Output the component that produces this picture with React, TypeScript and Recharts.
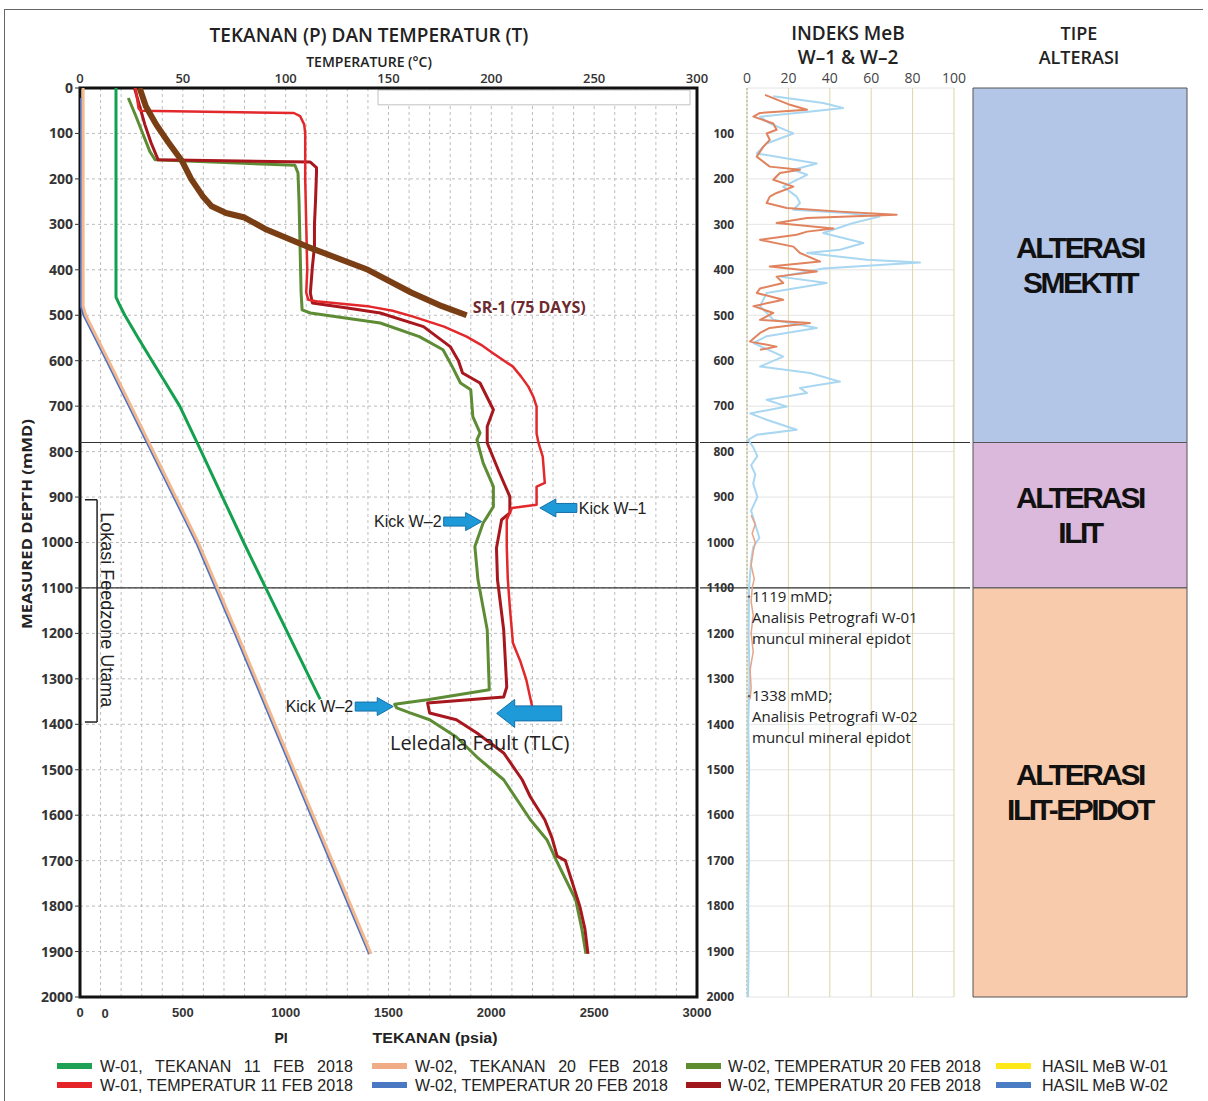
import React from 'react';
import {
  ScatterChart, Scatter, XAxis, YAxis, CartesianGrid,
  ReferenceLine, ReferenceArea, ReferenceDot,
} from 'recharts';

// ---------- axis ticks ----------
const DEPTH_TICKS = [0, 100, 200, 300, 400, 500, 600, 700, 800, 900, 1000, 1100, 1200, 1300, 1400, 1500, 1600, 1700, 1800, 1900, 2000];
const MEB_DEPTH_TICKS = [100, 200, 300, 400, 500, 600, 700, 800, 900, 1000, 1100, 1200, 1300, 1400, 1500, 1600, 1700, 1800, 1900, 2000];
const TEMP_TICKS = [0, 10, 20, 30, 40, 50, 60, 70, 80, 90, 100, 110, 120, 130, 140, 150, 160, 170, 180, 190, 200, 210, 220, 230, 240, 250, 260, 270, 280, 290, 300];
const PRESSURE_TICKS = [0, 500, 1000, 1500, 2000, 2500, 3000];
const MEB_TICKS = [0, 20, 40, 60, 80, 100];
const BOUNDARY_DEPTHS = [780, 1100];

// ---------- W-01 pressure 11 Feb 2018 (psia vs mMD) ----------
const P1_DEPTH = [0, 460, 475, 500, 550, 600, 650, 700, 800, 900, 1000, 1100, 1200, 1300, 1345];
const P1_PSIA = [175, 175, 190, 218, 283, 350, 418, 485, 590, 693, 796, 903, 1011, 1119, 1168];

// ---------- W-02 pressure 20 Feb 2018 ----------
const P2_DEPTH = [0, 480, 500, 600, 700, 800, 900, 1000, 1200, 1400, 1600, 1800, 1905];
const P2_PSIA = [15, 15, 28, 139, 248, 357, 466, 575, 763, 948, 1133, 1318, 1415];

// ---------- W-02 (blue) 20 Feb 2018 ----------
const B_DEPTH = [22, 480, 500, 600, 700, 800, 900, 1000, 1200, 1400, 1600, 1800, 1905];
const B_PSIA = [4, 6, 20, 131, 240, 349, 458, 567, 755, 940, 1125, 1310, 1408];

// ---------- SR-1 (75 days) ----------
const SR_DEPTH = [0, 40, 80, 120, 160, 200, 240, 260, 275, 285, 310, 350, 400, 450, 480, 500];
const SR_TEMP = [29, 32, 37, 43, 49.5, 54, 60, 64, 71, 80, 90, 111, 140, 161, 176, 188];

// ---------- W-01 temperature 11 Feb 2018 ----------
const T1_DEPTH = [0, 45, 50, 55, 62, 80, 100, 200, 300, 400, 450, 466, 470, 481, 490, 503, 525, 547, 565, 584, 613, 635, 657, 680, 701, 760, 782, 811, 869, 877, 917, 924, 950, 1009, 1080, 1142, 1221, 1260, 1302, 1364];
const T1_TEMP = [27, 28.5, 29.5, 104, 107, 109, 109.5, 109.5, 110, 110.5, 110, 111, 116, 141, 152, 162, 177, 188, 195, 201, 210.5, 214.5, 218, 220.5, 222, 222, 223, 225, 226, 222, 222, 210, 207.5, 207.5, 208, 209, 210.5, 214, 217, 220];

// ---------- W-02 temperature 20 Feb 2018 (dark red) ----------
const T2_DEPTH = [0, 40, 80, 120, 158, 163, 175, 185, 250, 300, 349, 393, 451, 473, 484, 495, 525, 569, 600, 627, 649, 708, 745, 781, 847, 899, 935, 950, 1012, 1082, 1192, 1318, 1340, 1353, 1375, 1390, 1419, 1463, 1522, 1560, 1610, 1650, 1690, 1700, 1750, 1800, 1850, 1905];
const T2_TEMP = [26.5, 29, 31.5, 34.5, 38, 112, 115, 115, 114.5, 114, 114, 113, 112, 113, 130, 146, 167, 180, 184, 186, 194.5, 201, 198, 198, 204, 209, 209, 205, 202.5, 203, 206, 207.5, 206, 169, 170, 183, 193, 206, 215, 219, 226, 229.5, 232, 236, 239.5, 243, 245.5, 247];

// ---------- W-02 temperature 20 Feb 2018 (olive) ----------
const T3_DEPTH = [22, 60, 100, 140, 158, 170, 187, 250, 350, 450, 488, 495, 517, 547, 576, 613, 649, 664, 723, 759, 774, 825, 877, 921, 943, 957, 1009, 1082, 1192, 1324, 1346, 1356, 1364, 1375, 1390, 1428, 1472, 1522, 1610, 1654, 1703, 1786, 1850, 1905];
const T3_TEMP = [23.5, 27, 30.5, 34, 36.5, 104.5, 106, 106.5, 107, 107.5, 108, 112, 146, 165, 176.5, 181, 185, 190, 191, 194.5, 193, 196, 201, 201, 198, 196, 192, 193.5, 198, 199, 169, 153, 154, 160.5, 170, 183, 193, 206, 219, 227, 232, 241, 244, 246];

// ---------- MeB index ----------
const MEB1_DEPTH = [15, 37, 48, 55, 63, 78, 92, 100, 114, 129, 151, 173, 180, 187, 202, 217, 231, 239, 253, 264, 272, 279, 286, 297, 309, 316, 323, 334, 349, 363, 382, 393, 404, 415, 429, 441, 451, 466, 480, 495, 510, 517, 528, 539, 558, 569, 576];
const MEB1_VAL = [8.7, 20.8, 29, 6.3, 3.1, 12.7, 14.3, 9.5, 11, 7.9, 4.7, 11, 25.6, 15.9, 12.7, 22.4, 14.3, 11, 9.5, 19.2, 44.9, 72.3, 29, 14.3, 41.7, 29, 24, 6.3, 22.4, 25.6, 35.3, 11, 33.7, 14.3, 17.5, 6.3, 4.7, 17.5, 3.1, 12.7, 6.3, 30.4, 11, 6.3, 1.5, 14.3, 6.3];
const MEB1_DEEP_DEPTH = [940, 960, 980, 1000, 1020, 1050, 1080, 1100, 1130, 1160, 1200, 1240, 1280, 1320, 1345];
const MEB1_DEEP_VAL = [2, 4, 2.5, 4, 3, 2, 3.5, 2.5, 2, 3, 2, 3, 1.5, 2, 1.5];
const MEB2_DEPTH = [18, 33, 44, 51, 63, 78, 100, 122, 144, 166, 180, 191, 217, 239, 253, 268, 275, 283, 297, 319, 341, 356, 363, 378, 384, 397, 415, 429, 451, 480, 510, 528, 546, 561, 591, 613, 627, 646, 660, 671, 686, 701, 716, 730, 752, 763, 774, 790, 810, 830, 850, 870, 900, 930, 960, 990, 1010, 1040, 1070, 1100, 1200, 1300, 1400, 1500, 1600, 1700, 1800, 1900, 2000];
const MEB2_VAL = [12.7, 36.8, 46.4, 32, 6.3, 11, 22.4, 9.5, 4.7, 33.7, 22.4, 29, 17.5, 24, 25.6, 22.4, 48, 64, 51.3, 36.8, 56.2, 44.9, 29, 57.8, 83.6, 36.8, 15.9, 38.5, 9.5, 6.3, 12.7, 33.7, 9.5, 3.1, 17.5, 6.3, 30.4, 44.9, 25.6, 29, 9.5, 19.2, 1.5, 9.5, 24, 4.7, 0.5, 3, 5, 2, 4, 3, 5, 2, 4, 6, 3, 2, 1.5, 1, 0.8, 1.2, 0.6, 1, 0.7, 0.9, 0.6, 0.8, 0.5];

// ---------- petrography notes ----------
const PETRO_DEPTHS = [1119, 1338];
const PETRO_WELLS = ['W-01', 'W-02'];

// ---------- alteration zones ----------
const ZONE_TOPS = [0, 780, 1100];
const ZONE_BOTTOMS = [780, 1100, 2000];
const ZONE_NAMES = [['ALTERASI', 'SMEKTIT'], ['ALTERASI', 'ILIT'], ['ALTERASI', 'ILIT-EPIDOT']];
const ZONE_COLORS = ['#B3C6E7', '#DBB9DC', '#F8CBAD'];

// ---------- legend ----------
const LEGEND_LABELS = [
  ['W-01, TEKANAN 11 FEB 2018', 'W-02, TEKANAN 20 FEB 2018', 'W-02, TEMPERATUR 20 FEB 2018', 'HASIL MeB W-01'],
  ['W-01, TEMPERATUR 11 FEB 2018', 'W-02, TEMPERATUR 20 FEB 2018', 'W-02, TEMPERATUR 20 FEB 2018', 'HASIL MeB W-02'],
];
const LEGEND_COLORS = [
  ['#1DA155', '#F0AC84', '#5E8C31', '#FFE81A'],
  ['#E42428', '#4A78C2', '#A0171C', '#4A7DC4'],
];

const SANS = '"Liberation Sans", Arial, sans-serif';
const CAL = '"Open Sans", "Liberation Sans", sans-serif';

const pts = (xs: number[], ds: number[]) => ds.map((d, i) => ({ x: xs[i], y: d }));
const noDot = () => <g />;

type ArrowSpec = { t: number; d: number; dir: 'left' | 'right'; len: number; head: number; headH: number; bodyH: number; text?: string };
const ARROWS: ArrowSpec[] = [
  { t: 223.6, d: 924, dir: 'left', len: 37, head: 16, headH: 9, bodyH: 4.5, text: 'Kick W–1' },
  { t: 195.3, d: 954, dir: 'right', len: 38, head: 16, headH: 9, bodyH: 4.5, text: 'Kick W–2' },
  { t: 152.3, d: 1361, dir: 'right', len: 38, head: 16, headH: 9, bodyH: 4.5, text: 'Kick W–2' },
  { t: 202.6, d: 1376, dir: 'left', len: 65, head: 18, headH: 14, bodyH: 7.5 },
];

const arrowShape = (a: ArrowSpec) => (props: any) => {
  const { cx, cy } = props;
  const s = a.dir === 'left' ? 1 : -1;
  const p = (dx: number, dy: number) => `${cx + s * dx},${cy + dy}`;
  const poly = [p(0, 0), p(a.head, -a.headH), p(a.head, -a.bodyH), p(a.len, -a.bodyH), p(a.len, a.bodyH), p(a.head, a.bodyH), p(a.head, a.headH)].join(' ');
  return (
    <g>
      <polygon points={poly} fill="#1E9AD8" stroke="#1670A8" strokeWidth={1} />
      {a.text ? (
        <text x={cx + s * (a.len + 2)} y={cy} dy="0.36em" textAnchor={a.dir === 'left' ? 'start' : 'end'}
          fontFamily={SANS} fontSize={16} fill="#222">{a.text}</text>
      ) : null}
    </g>
  );
};

const textShape = (txt: string, opts: any) => (props: any) => (
  <text x={props.cx} y={props.cy} dy="0.36em" {...opts}>{txt}</text>
);

const feedzoneShape = (props: any) => (
  <text transform={`translate(${props.cx},${props.cy}) rotate(90)`} textAnchor="middle"
    fontFamily={SANS} fontSize={18} fill="#222">Lokasi Feedzone Utama</text>
);

const petroShape = (depth: number, well: string) => (props: any) => (
  <g>
    <circle cx={props.cx + 2} cy={props.cy} r={1.2} fill="#555" />
    <text x={props.cx + 5} y={props.cy + 5} fontFamily={CAL} fontSize={15} fill="#222">
      <tspan x={props.cx + 5}>{`${depth} mMD;`}</tspan>
      <tspan x={props.cx + 5} dy={21}>{`Analisis Petrografi ${well}`}</tspan>
      <tspan x={props.cx + 5} dy={21}>muncul mineral epidot</tspan>
    </text>
  </g>
);

const ZoneLabel = (props: any) => {
  const vb = props.viewBox || {};
  const cx = vb.x + vb.width / 2;
  const cy = vb.y + vb.height / 2;
  const lines: string[] = props.lines;
  return (
    <text textAnchor="middle" fontFamily={SANS} fontWeight={700} fontSize={30} letterSpacing={-2.5} fill="#111">
      <tspan x={cx} y={cy - 7}>{lines[0]}</tspan>
      <tspan x={cx} y={cy + 28}>{lines[1]}</tspan>
    </text>
  );
};

const axisTick = { fill: '#333', fontSize: 14, fontFamily: CAL, fontWeight: 700 };

function MainChart() {
  return (
    <div style={{ position: 'absolute', left: 0, top: 0 }}>
      <ScatterChart width={720} height={1050} margin={{ top: 60, right: 23, bottom: 23, left: 0 }}>
        <CartesianGrid stroke="#bdbdbd" strokeDasharray="3 3" />
        <XAxis type="number" dataKey="x" orientation="top" domain={[0, 300]} ticks={TEMP_TICKS} interval={0}
          tickFormatter={(v: number) => (v % 50 === 0 ? String(v) : '')} height={28} axisLine={false}
          tickLine={false} tickSize={3} tickMargin={2} allowDataOverflow
          tick={{ fill: '#333', fontSize: 13, fontFamily: CAL, fontWeight: 600 }} />
        <XAxis xAxisId="p" type="number" dataKey="x" orientation="bottom" domain={[0, 3000]} ticks={PRESSURE_TICKS}
          interval={0} height={30} axisLine={false} tickLine={false} tickSize={6} tickMargin={5} allowDataOverflow
          tick={{ fill: '#333', fontSize: 13, fontFamily: SANS, fontWeight: 700 }} />
        <YAxis type="number" dataKey="y" domain={[0, 2000]} reversed ticks={DEPTH_TICKS} interval={0} width={80}
          tickSize={5} tickMargin={2} axisLine={false} tickLine={{ stroke: '#333' }} allowDataOverflow tick={axisTick} />

        <ReferenceArea x1={144.9} x2={296.6} y1={4.4} y2={37} fill="#fff" fillOpacity={1} stroke="#c0c0c0" ifOverflow="visible" />

        <Scatter data={pts(B_PSIA, B_DEPTH)} xAxisId="p" shape={noDot} isAnimationActive={false}
          line={{ stroke: '#4F72C4', strokeWidth: 3, strokeLinejoin: 'round' }} lineType="joint" />
        <Scatter data={pts(P2_PSIA, P2_DEPTH)} xAxisId="p" shape={noDot} isAnimationActive={false}
          line={{ stroke: '#F2B88E', strokeWidth: 3, strokeLinejoin: 'round' }} lineType="joint" />
        <Scatter data={pts(P1_PSIA, P1_DEPTH)} xAxisId="p" shape={noDot} isAnimationActive={false}
          line={{ stroke: '#14A04E', strokeWidth: 3, strokeLinejoin: 'round' }} lineType="joint" />
        <Scatter data={pts(T3_TEMP, T3_DEPTH)} shape={noDot} isAnimationActive={false}
          line={{ stroke: '#5E8C35', strokeWidth: 3, strokeLinejoin: 'round' }} lineType="joint" />
        <Scatter data={pts(T2_TEMP, T2_DEPTH)} shape={noDot} isAnimationActive={false}
          line={{ stroke: '#A8171D', strokeWidth: 3, strokeLinejoin: 'round' }} lineType="joint" />
        <Scatter data={pts(T1_TEMP, T1_DEPTH)} shape={noDot} isAnimationActive={false}
          line={{ stroke: '#E3282C', strokeWidth: 2.5, strokeLinejoin: 'round' }} lineType="joint" />
        <Scatter data={pts(SR_TEMP, SR_DEPTH)} shape={noDot} isAnimationActive={false}
          line={{ stroke: '#7A3E14', strokeWidth: 6, strokeLinejoin: 'round' }} lineType="joint" />

        {BOUNDARY_DEPTHS.map((d) => (
          <ReferenceLine key={d} y={d} stroke="#333" strokeWidth={1.2} />
        ))}

        <ReferenceLine segment={[{ x: 8.3, y: 906 }, { x: 8.3, y: 1395 }]} stroke="#222" strokeWidth={1.5} />
        <ReferenceLine segment={[{ x: 2.4, y: 906 }, { x: 8.3, y: 906 }]} stroke="#222" strokeWidth={1.5} />
        <ReferenceLine segment={[{ x: 2.4, y: 1395 }, { x: 8.3, y: 1395 }]} stroke="#222" strokeWidth={1.5} />
        <ReferenceDot x={10.2} y={1148} shape={feedzoneShape} ifOverflow="visible" />

        <ReferenceDot x={191} y={482} ifOverflow="visible"
          shape={textShape('SR-1 (75 DAYS)', { fontFamily: CAL, fontSize: 16, fontWeight: 700, fill: '#6E2A2E' })} />
        <ReferenceDot x={150.7} y={1441} ifOverflow="visible"
          shape={textShape('Leledala Fault (TLC)', { fontFamily: CAL, fontSize: 20, fill: '#222' })} />
        {ARROWS.map((a, i) => (
          <ReferenceDot key={i} x={a.t} y={a.d} ifOverflow="visible" shape={arrowShape(a)} />
        ))}

        <ReferenceArea x1={0} x2={300} y1={0} y2={2000} fill="none" stroke="#111" strokeWidth={3} ifOverflow="visible" />
      </ScatterChart>
    </div>
  );
}

function MebChart() {
  return (
    <div style={{ position: 'absolute', left: 700, top: 0 }}>
      <ScatterChart width={270} height={1050} margin={{ top: 60, right: 16, bottom: 53, left: 0 }}>
        <CartesianGrid stroke="#e4e4e4" vertical={false} />
        <CartesianGrid stroke="#DCD6A6" horizontal={false} />
        <XAxis type="number" dataKey="x" orientation="top" domain={[0, 100]} ticks={MEB_TICKS} interval={0}
          height={28} axisLine={false} tickLine={false} tickSize={3} tickMargin={2} allowDataOverflow
          tick={{ fill: '#444', fontSize: 14, fontFamily: CAL }} />
        <YAxis type="number" dataKey="y" domain={[0, 2000]} reversed ticks={MEB_DEPTH_TICKS} interval={0} width={47}
          tickSize={3} tickMargin={10} axisLine={{ stroke: '#aaa', strokeDasharray: '2 2' }} tickLine={false}
          allowDataOverflow tick={{ fill: '#333', fontSize: 12, fontFamily: CAL, fontWeight: 700 }} />

        <Scatter data={pts(MEB2_VAL, MEB2_DEPTH)} shape={noDot} isAnimationActive={false}
          line={{ stroke: '#A9D7F2', strokeWidth: 2, strokeLinejoin: 'round' }} lineType="joint" />
        <Scatter data={pts(MEB1_VAL, MEB1_DEPTH)} shape={noDot} isAnimationActive={false}
          line={{ stroke: '#E0835E', strokeWidth: 2, strokeLinejoin: 'round' }} lineType="joint" />
        <Scatter data={pts(MEB1_DEEP_VAL, MEB1_DEEP_DEPTH)} shape={noDot} isAnimationActive={false}
          line={{ stroke: '#E8A488', strokeWidth: 1.5, strokeLinejoin: 'round' }} lineType="joint" />

        {BOUNDARY_DEPTHS.map((d) => (
          <ReferenceLine key={d} segment={[{ x: -24.2, y: d }, { x: 109.2, y: d }]} stroke="#333" strokeWidth={1.2} ifOverflow="visible" />
        ))}
        {PETRO_DEPTHS.map((d, i) => (
          <ReferenceDot key={d} x={0} y={d} ifOverflow="visible" shape={petroShape(d, PETRO_WELLS[i])} />
        ))}
      </ScatterChart>
    </div>
  );
}

const ZONE_POINTS = ZONE_TOPS.map((t, i) => ({ x: 0.5, y: (t + ZONE_BOTTOMS[i]) / 2 }));

function AlterationChart() {
  return (
    <div style={{ position: 'absolute', left: 960, top: 0 }}>
      <ScatterChart width={240} height={1050} margin={{ top: 88, right: 13, bottom: 53, left: 13 }}>
        <XAxis type="number" dataKey="x" domain={[0, 1]} hide allowDataOverflow />
        <YAxis type="number" dataKey="y" domain={[0, 2000]} reversed hide allowDataOverflow />
        <Scatter data={ZONE_POINTS} shape={noDot} isAnimationActive={false} />
        {ZONE_TOPS.map((top, i) => (
          <ReferenceArea key={i} x1={0} x2={1} y1={top} y2={ZONE_BOTTOMS[i]} fill={ZONE_COLORS[i]} fillOpacity={1}
            stroke="#555" strokeWidth={1} ifOverflow="visible" label={<ZoneLabel lines={ZONE_NAMES[i]} />} />
        ))}
      </ScatterChart>
    </div>
  );
}

function Overlay() {
  const colX = [57, 372, 686, 996];
  const textX = [100, 415, 728, 1042];
  const rowY = [1066, 1085];
  return (
    <svg width={1208} height={1101} style={{ position: 'absolute', left: 0, top: 0, pointerEvents: 'none' }}>
      <line x1={4} y1={9.5} x2={1203} y2={9.5} stroke="#666" strokeWidth={1} />
      <line x1={4.5} y1={9} x2={4.5} y2={1101} stroke="#666" strokeWidth={1} />

      <text x={369} y={42} textAnchor="middle" fontFamily={CAL} fontSize={19} fontWeight={600} fill="#222">TEKANAN (P) DAN TEMPERATUR (T)</text>
      <text x={369} y={67} textAnchor="middle" fontFamily={CAL} fontSize={14} fontWeight={600} fill="#222">TEMPERATURE (°C)</text>
      <text x={848} y={40} textAnchor="middle" fontFamily={CAL} fontSize={19} fontWeight={600} fill="#222">INDEKS MeB</text>
      <text x={848} y={64} textAnchor="middle" fontFamily={CAL} fontSize={19} fontWeight={600} fill="#222">{'W–1 & W–2'}</text>
      <text x={1079} y={40} textAnchor="middle" fontFamily={CAL} fontSize={18} fontWeight={600} fill="#222">TIPE</text>
      <text x={1079} y={64} textAnchor="middle" fontFamily={CAL} fontSize={18} fontWeight={600} fill="#222">ALTERASI</text>

      <text transform="translate(32,524) rotate(-90)" textAnchor="middle" fontFamily={CAL} fontSize={14} fontWeight={700} fill="#222"
        textLength={210} lengthAdjust="spacingAndGlyphs">MEASURED DEPTH (mMD)</text>

      <text x={105} y={1018} textAnchor="middle" fontFamily={SANS} fontSize={13} fontWeight={700} fill="#333">0</text>
      <text x={281} y={1043} textAnchor="middle" fontFamily={SANS} fontSize={14} fontWeight={700} fill="#222">PI</text>
      <text x={435} y={1043} textAnchor="middle" fontFamily={SANS} fontSize={14} fontWeight={700} fill="#222" textLength={125} lengthAdjust="spacingAndGlyphs">TEKANAN (psia)</text>

      {LEGEND_LABELS.map((row, r) => row.map((lab, c) => (
        <g key={`${r}-${c}`}>
          <line x1={colX[c]} x2={colX[c] + 35} y1={rowY[r]} y2={rowY[r]} stroke={LEGEND_COLORS[r][c]} strokeWidth={6} />
          <text x={textX[c]} y={rowY[r] + 6} fontFamily={SANS} fontSize={16} fill="#222"
            textLength={c === 3 ? 126 : 253} lengthAdjust={r === 0 && c < 2 ? 'spacing' : 'spacingAndGlyphs'}
            wordSpacing={r === 0 && c < 2 ? 8 : 0}>{lab}</text>
        </g>
      )))}
    </svg>
  );
}

export default function App() {
  return (
    <div style={{ position: 'relative', width: 1208, height: 1101, background: '#fff', overflow: 'hidden' }}>
      <style>{'body{margin:0}'}</style>
      <MainChart />
      <MebChart />
      <AlterationChart />
      <Overlay />
    </div>
  );
}
